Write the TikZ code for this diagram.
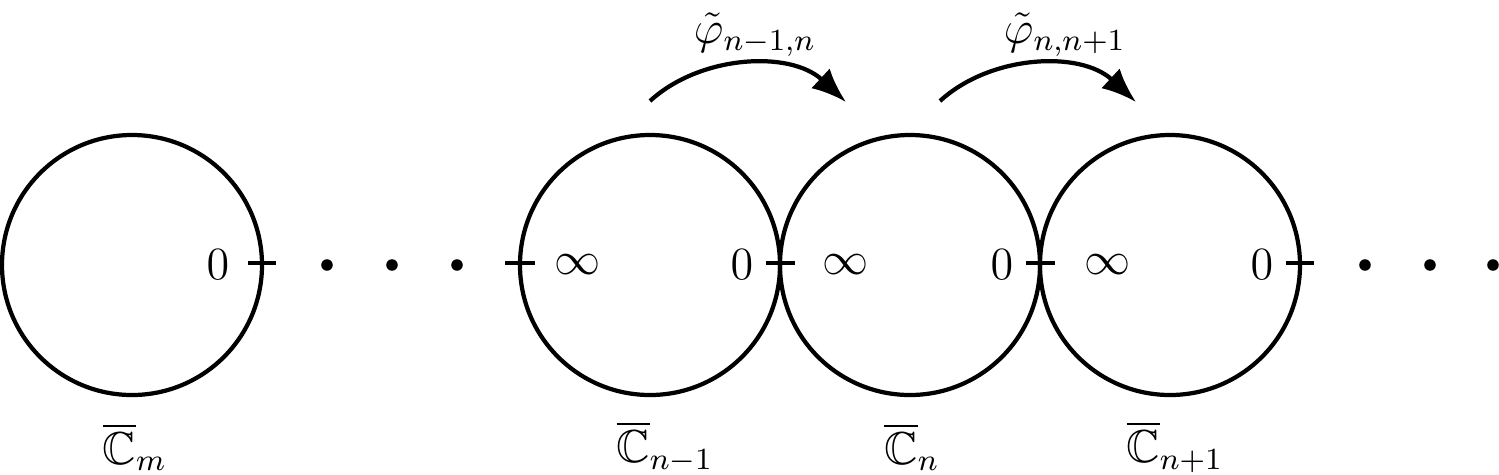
\documentclass[tikz,border=0pt]{standalone}
\usepackage{amsfonts,amssymb}
\usetikzlibrary{arrows.meta}
\begin{document}
\begin{tikzpicture}[x=0.26pt,y=-0.26pt,
  every node/.append style={font=\large},
  circ/.style={circle,draw,line width=1.1pt,minimum size=67.6pt,inner sep=0pt},
  tick/.style={line width=1.1pt},
  dot/.style={circle,fill,inner sep=0pt,minimum size=3pt},
  arr/.style={line width=1.1pt,-{Latex[length=9pt,width=7pt]}}]
\useasboundingbox (0,0) rectangle (1499,474);
\node[circ] (c1) at (132,265) {};
\node[circ] (c2) at (650,265) {};
\node[circ] (c3) at (910,265) {};
\node[circ] (c4) at (1170,265) {};
\coordinate (t1a) at (248,263); \coordinate (t1b) at (276,263);
\draw[tick] (t1a) -- (t1b);
\coordinate (t2a) at (505,263); \coordinate (t2b) at (535,263);
\draw[tick] (t2a) -- (t2b);
\coordinate (t3a) at (766,263); \coordinate (t3b) at (795,263);
\draw[tick] (t3a) -- (t3b);
\coordinate (t4a) at (1026,263); \coordinate (t4b) at (1055,263);
\draw[tick] (t4a) -- (t4b);
\coordinate (t5a) at (1286,263); \coordinate (t5b) at (1314,263);
\draw[tick] (t5a) -- (t5b);
\node (z1) at (218,265) {$0$};
\node (z2) at (742,265) {$0$};
\node (z3) at (1002,265) {$0$};
\node (z4) at (1262,265) {$0$};
\node (i1) at (578,265) {$\infty$};
\node (i2) at (846,265) {$\infty$};
\node (i3) at (1108,265) {$\infty$};
\foreach \x [count=\i] in {327,392,457,1365,1430,1493} \node[dot] (d\i) at (\x,265) {};
\node (l1) at (135,447) {$\overline{\mathbb{C}}_m$};
\node (l2) at (665,447) {$\overline{\mathbb{C}}_{n-1}$};
\node (l3) at (912,447) {$\overline{\mathbb{C}}_n$};
\node (l4) at (1175,447) {$\overline{\mathbb{C}}_{n+1}$};
\coordinate (a1s) at (650,101); \coordinate (a1e) at (846,102);
\coordinate (a2s) at (940,101); \coordinate (a2e) at (1136,102);
\draw[arr] (a1s) .. controls (700,55) and (790,50) .. (a1e);
\draw[arr] (a2s) .. controls (990,55) and (1080,50) .. (a2e);
\node (p1) at (755,35) {$\tilde{\varphi}_{n-1,n}$};
\node (p2) at (1065,35) {$\tilde{\varphi}_{n,n+1}$};
\end{tikzpicture}
\end{document}
